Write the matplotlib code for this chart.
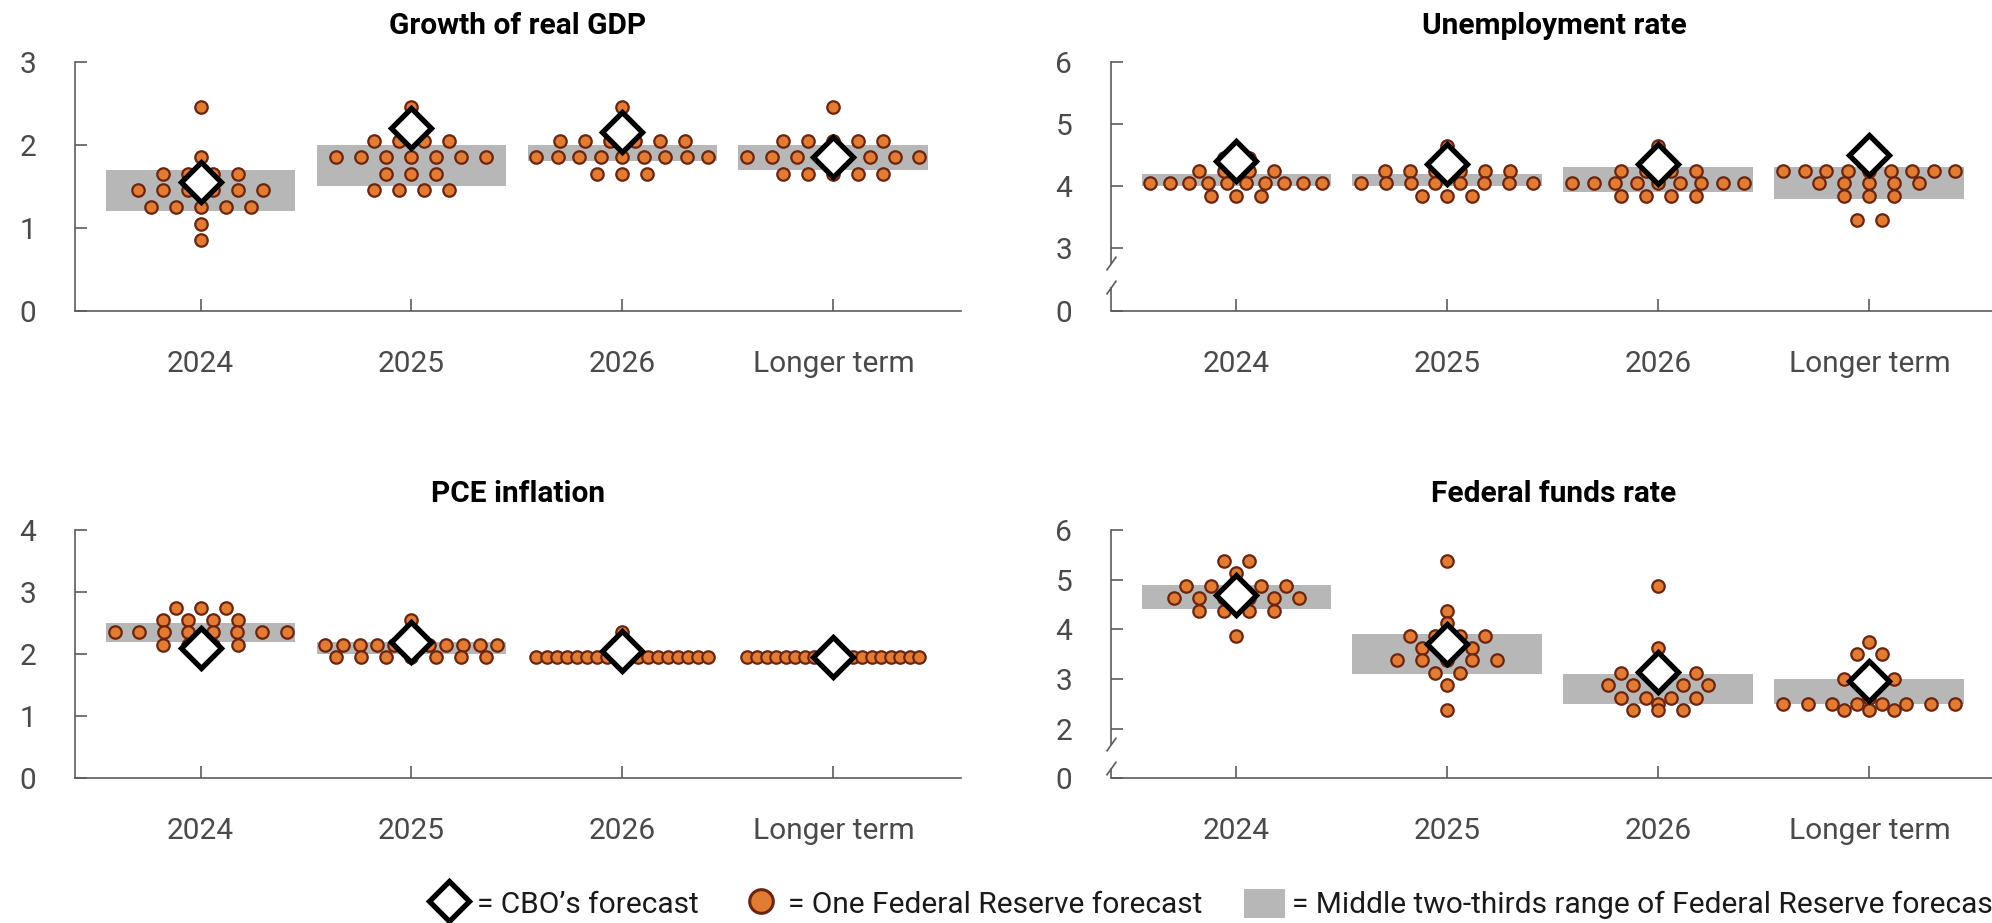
import numpy as np
import matplotlib
matplotlib.use("Agg")
import matplotlib.pyplot as plt
from matplotlib.lines import Line2D
from matplotlib.patches import Patch

plt.rcParams['font.family'] = ['Roboto', 'DejaVu Sans']

# ---------------- DATA ----------------
categories = ['2024', '2025', '2026', 'Longer term']

# Fed participants' projections, {value: number of participants}
gdp_dots = [
    {2.45: 1, 1.85: 1, 1.65: 4, 1.45: 6, 1.25: 5, 1.05: 1, 0.85: 1},
    {2.45: 1, 2.05: 4, 1.85: 7, 1.65: 3, 1.45: 4},
    {2.45: 1, 2.05: 6, 1.85: 9, 1.65: 3},
    {2.45: 1, 2.05: 5, 1.85: 8, 1.65: 5},
]
gdp_low = [1.2, 1.5, 1.8, 1.7]
gdp_high = [1.7, 2.0, 2.0, 2.0]
gdp_cbo = [1.55, 2.2, 2.15, 1.85]

unemp_dots = [
    {4.45: 2, 4.25: 4, 4.05: 10, 3.85: 3},
    {4.65: 1, 4.45: 1, 4.25: 6, 4.05: 8, 3.85: 3},
    {4.65: 1, 4.45: 1, 4.25: 4, 4.05: 9, 3.85: 4},
    {4.25: 9, 4.05: 5, 3.85: 3, 3.45: 2},
]
unemp_low = [4.0, 4.0, 3.9, 3.8]
unemp_high = [4.2, 4.2, 4.3, 4.3]
unemp_cbo = [4.4, 4.35, 4.35, 4.5]

pce_dots = [
    {2.75: 3, 2.55: 4, 2.35: 8, 2.15: 4},
    {2.55: 1, 2.15: 11, 1.95: 7},
    {2.35: 1, 1.95: 18},
    {1.95: 19},
]
pce_low = [2.2, 2.0, 2.0, 2.0]
pce_high = [2.5, 2.2, 2.0, 2.0]
pce_cbo = [2.1, 2.2, 2.05, 1.95]

ffr_dots = [
    {5.375: 2, 5.125: 1, 4.875: 5, 4.625: 6, 4.375: 4, 3.875: 1},
    {5.375: 1, 4.375: 1, 4.125: 1, 3.875: 4, 3.625: 3, 3.375: 5, 3.125: 2, 2.875: 1, 2.375: 1},
    {4.875: 1, 3.625: 1, 3.125: 4, 2.875: 5, 2.625: 4, 2.5: 1, 2.375: 3},
    {3.75: 1, 3.5: 2, 3.0: 3, 2.75: 1, 2.625: 1, 2.5: 8, 2.375: 3},
]
ffr_low = [4.4, 3.1, 2.5, 2.5]
ffr_high = [4.9, 3.9, 3.1, 3.0]
ffr_cbo = [4.7, 3.7, 3.15, 2.95]

# ---------------- STYLE ----------------
DOT_FILL = '#E27C33'
DOT_EDGE = '#6B2410'
BAR_C = '#B7B7B7'
AXIS_C = '#5c5c5c'
LABEL_C = '#4a4a4a'
FS = 21.5

panels = [
    ('Growth of real GDP', gdp_dots, gdp_low, gdp_high, gdp_cbo,
     (0, 3), [0, 1, 2, 3], ['0', '1', '2', '3'], None,
     [0.03765, 0.6634, 0.4448, 0.2698]),
    ('Unemployment rate', unemp_dots, unemp_low, unemp_high, unemp_cbo,
     (2, 6), [2, 3, 4, 5, 6], ['0', '3', '4', '5', '6'], (2.38, 2.76),
     [0.5577, 0.6634, 0.4448, 0.2698]),
    ('PCE inflation', pce_dots, pce_low, pce_high, pce_cbo,
     (0, 4), [0, 1, 2, 3, 4], ['0', '1', '2', '3', '4'], None,
     [0.03765, 0.1568, 0.4448, 0.269]),
    ('Federal funds rate', ffr_dots, ffr_low, ffr_high, ffr_cbo,
     (1, 6), [1, 2, 3, 4, 5, 6], ['0', '2', '3', '4', '5', '6'], (1.2, 1.7),
     [0.5577, 0.1568, 0.4448, 0.269]),
]


def dot_positions(ax, dots):
    # spread the dots of one value across the category, in pixels
    px_per_x = ax.transData.transform((1, 0))[0] - ax.transData.transform((0, 0))[0]
    xs, ys = [], []
    for i, row in enumerate(dots):
        for v, n in row.items():
            step = min(25, 172 / max(n - 1, 1)) / px_per_x
            for k in range(n):
                xs.append(i + (k - (n - 1) / 2) * step)
                ys.append(v)
    return xs, ys


fig = plt.figure(figsize=(19.92, 9.23), dpi=100)

x = np.arange(len(categories))
for title, dots, low, high, cbo, ylim, yticks, ylabels, brk, rect in panels:
    ax = fig.add_axes(rect)
    ax.set_xlim(-0.595, 3.605)
    ax.set_ylim(*ylim)

    ax.bar(x, np.array(high) - np.array(low), bottom=low, width=0.9,
           color=BAR_C, zorder=1)

    xs, ys = dot_positions(ax, dots)
    ax.scatter(xs, ys, s=80, color=DOT_FILL, edgecolor=DOT_EDGE,
               linewidth=1.6, zorder=3, clip_on=False)

    ax.plot(x, cbo, ls='none', marker='D', ms=20, mfc='white', mec='black',
            mew=3.8, zorder=4, clip_on=False)

    ax.set_title(title, fontsize=FS, fontweight='bold', pad=20)
    ax.set_xticks(x)
    ax.set_xticklabels(categories)
    ax.set_yticks(yticks)
    ax.set_yticklabels(ylabels)
    ax.tick_params(direction='in', length=8.5, width=1.2, color=AXIS_C,
                   labelsize=FS, labelcolor=LABEL_C, pad=28)

    for s in ['top', 'right']:
        ax.spines[s].set_visible(False)
    for s in ['left', 'bottom']:
        ax.spines[s].set_color(AXIS_C)
        ax.spines[s].set_linewidth(1.2)

    # broken y axis
    if brk:
        lo, hi = brk
        ax.spines['left'].set_bounds(hi, ylim[1])
        trans = ax.get_yaxis_transform()
        ax.plot([0, 0], [ylim[0], lo], transform=trans, color=AXIS_C, lw=1.2,
                clip_on=False, solid_capstyle='butt')
        ax.plot([0, 0], [lo, hi], transform=trans, ls='none',
                marker=[(-1, -1.4), (1, 1.4)], ms=10, mew=1.2, color=AXIS_C,
                clip_on=False)

# ---------------- LEGEND ----------------
handles = [
    Line2D([], [], ls='none', marker='D', ms=20, mfc='white', mec='black', mew=3.8),
    Line2D([], [], ls='none', marker='o', ms=17, mfc=DOT_FILL, mec=DOT_EDGE, mew=2.2),
    Patch(facecolor=BAR_C, edgecolor='none'),
]
labels = ['= CBO\u2019s forecast', '= One Federal Reserve forecast',
          '= Middle two-thirds range of Federal Reserve forecasts']
fig.legend(handles, labels, loc='center left', bbox_to_anchor=(0.2154, 0.0206),
           ncol=3, frameon=False, fontsize=FS, handlelength=1.35,
           handleheight=1.15, handletextpad=0.25, columnspacing=1.4,
           borderpad=0, borderaxespad=0, labelcolor='#1a1a1a')

fig.savefig('out.png', dpi=100)
